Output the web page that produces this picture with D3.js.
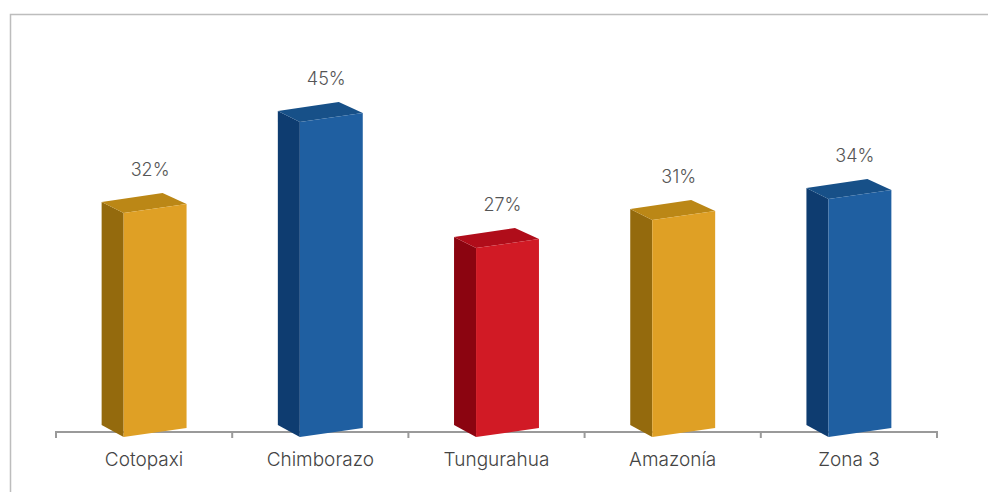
<!DOCTYPE html>
<html>
<head>
<meta charset="utf-8">
<script src="https://cdn.jsdelivr.net/npm/d3@7"></script>
<style>
html,body{margin:0;padding:0;background:#fff;overflow:hidden;}
text{font-family:Inter,"Liberation Sans",sans-serif;font-weight:300;}
</style>
</head>
<body>
<svg id="chart" width="988" height="492"></svg>
<script>
var categories=["Cotopaxi","Chimborazo","Tungurahua","Amazonía","Zona 3"];
var values=[32,45,27,31,34];
var barGroups=["gold","blue","red","gold","blue"];

var faceColors={
	gold:{front:"#dfa025",side:"#946a0d",top:"#bb8716"},
	blue:{front:"#1f5fa1",side:"#0e3c70",top:"#175088"},
	red:{front:"#d11a25",side:"#8b0410",top:"#b00d1a"}
};

var svg=d3.select("#chart");

var axisLeft=56,axisRight=937,axisY=432;
var sideW=22,skew=9,rise=12;

var xscale=d3.scaleBand()
	.domain(categories)
	.range([axisLeft,axisRight])
	.paddingInner(0.518)
	.paddingOuter(0.259);

// 7px per percent, measured on the front left edge
var hscale=d3.scaleLinear().domain([0,45]).range([0,315]);

// frame: only top and left edges are visible
svg.append("path")
	.attr("d","M10.5,492V14.5H988")
	.attr("fill","none")
	.attr("stroke","#bdbdbd")
	.attr("stroke-width",1.5);

// axis, ticks hang below the line
var axisG=svg.append("g");
axisG.append("path")
	.attr("d","M"+axisLeft+","+(axisY+6)+"V"+axisY+"H"+axisRight+"V"+(axisY+6))
	.attr("fill","none")
	.attr("stroke","#9a9a9a")
	.attr("stroke-width",2);
axisG.selectAll("line").data(categories.slice(1))
	.enter().append("line")
	.attr("x1",d=>xscale(d)-xscale.step()*0.259)
	.attr("x2",d=>xscale(d)-xscale.step()*0.259)
	.attr("y1",axisY)
	.attr("y2",axisY+6)
	.attr("stroke","#9a9a9a")
	.attr("stroke-width",2);

var bars=svg.selectAll("g.bar").data(categories)
	.enter().append("g")
	.attr("class","bar");

var baseY=437;
bars.each(function(d,i){
	var g=d3.select(this);
	var c=faceColors[barGroups[i]];
	var x0=xscale(d),x1=x0+sideW,x2=x0+xscale.bandwidth();
	var h=hscale(values[i]);
	var top=baseY-h;
	var line=d3.line();
	// side face
	g.append("path")
		.attr("d",line([[x0,baseY-12],[x1,baseY],[x1,top],[x0,top-11]])+"Z")
		.attr("fill",c.side);
	// top face
	g.append("path")
		.attr("d",line([[x0,top-11],[x1,top],[x2,top-skew],[x2-rise*2,top-20]])+"Z")
		.attr("fill",c.top);
	// front face
	g.append("path")
		.attr("d",line([[x1,baseY],[x2,baseY-skew],[x2,top-skew],[x1,top]])+"Z")
		.attr("fill",c.front);
	g.append("text")
		.attr("x",x0+xscale.bandwidth()/2+6)
		.attr("y",top-37)
		.attr("text-anchor","middle")
		.attr("font-size",18)
		.attr("fill","#555")
		.text(values[i]+"%");
	g.append("text")
		.attr("x",x0+xscale.bandwidth()/2)
		.attr("y",466)
		.attr("text-anchor","middle")
		.attr("font-size",19)
		.attr("fill","#444")
		.text(d);
});
</script>
</body>
</html>
